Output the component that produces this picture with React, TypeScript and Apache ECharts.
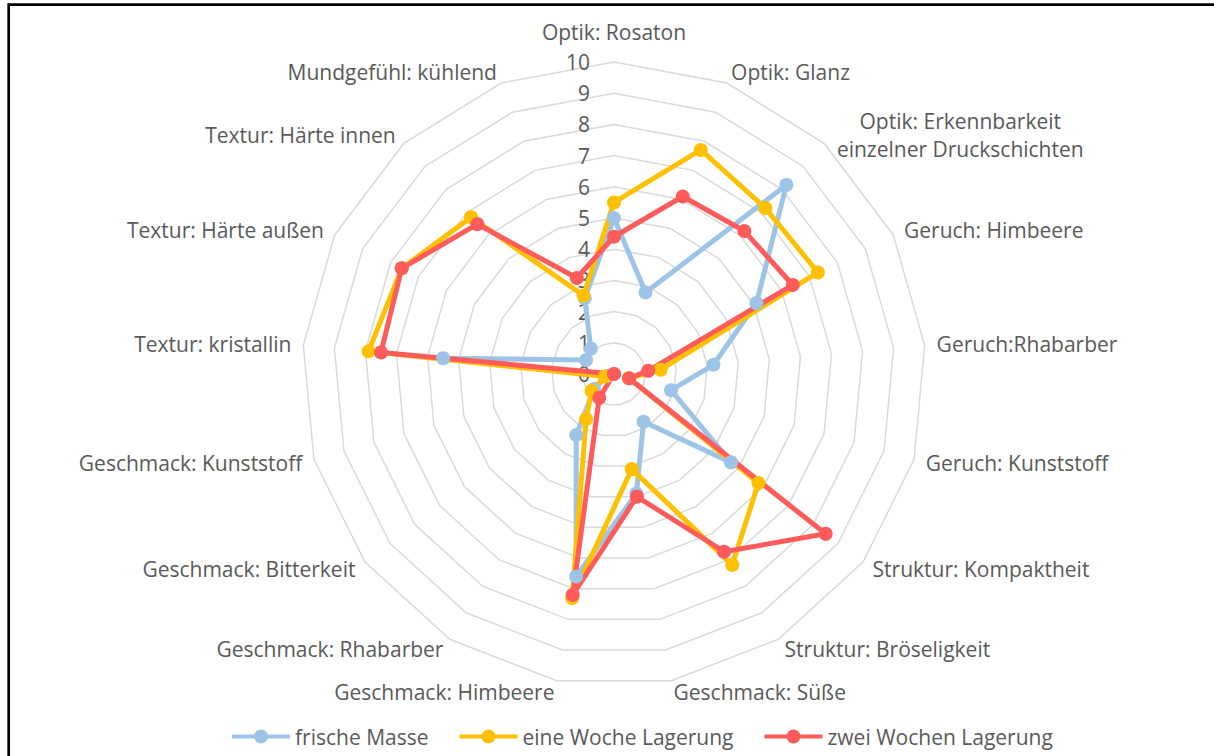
import React, { useEffect, useRef } from "react";
import * as echarts from "echarts";

// Indicators in clockwise order starting at the top
const indicatorNames = [
  "Optik: Rosaton",
  "Optik: Glanz",
  "Optik: Erkennbarkeit\neinzelner Druckschichten",
  "Geruch: Himbeere",
  "Geruch:Rhabarber",
  "Geruch: Kunststoff",
  "Struktur: Kompaktheit",
  "Struktur: Bröseligkeit",
  "Geschmack: Süße",
  "Geschmack: Himbeere",
  "Geschmack: Rhabarber",
  "Geschmack: Bitterkeit",
  "Geschmack: Kunststoff",
  "Textur: kristallin",
  "Textur: Härte außen",
  "Textur: Härte innen",
  "Mundgefühl: kühlend",
];

const axisMin = 0;
const axisMax = 10;

const seriesNames = ["frische Masse", "eine Woche Lagerung", "zwei Wochen Lagerung"];

const frischeMasse = [5.0, 2.8, 8.2, 5.1, 3.2, 1.9, 4.7, 1.8, 3.9, 6.6, 2.3, 0.8, 0.2, 5.5, 1.0, 1.1, 2.6];
const eineWoche = [5.5, 7.7, 7.2, 7.3, 1.5, 0.5, 5.8, 7.2, 3.1, 7.3, 1.7, 0.9, 0.3, 7.9, 7.6, 6.8, 2.7];
const zweiWochen = [4.4, 6.1, 6.2, 6.4, 1.1, 0.5, 8.5, 6.7, 4.0, 7.2, 0.9, 0.0, 0.0, 7.5, 7.6, 6.5, 3.3];

const seriesColors = ["#9dc3e6", "#ffc000", "#ff5b5b"];

// ECharts radar runs counter-clockwise, so reverse everything after the first axis
const order = [0, ...Array.from({ length: indicatorNames.length - 1 }, (_, i) => indicatorNames.length - 1 - i)];
const reorder = (arr: number[]) => order.map((i) => arr[i]);

const legendIcon =
  "path://M0,5 L58,5 L58,9 L0,9 Z M22,7 A7,7 0 1,1 36,7 A7,7 0 1,1 22,7 Z";

export default function App() {
  const ref = useRef<HTMLDivElement>(null);

  useEffect(() => {
    if (!ref.current) return;
    const chart = echarts.init(ref.current, null, { renderer: "svg" });
    const textColor = "#595959";
    const fontSize = 21;
    const allValues = [frischeMasse, eineWoche, zweiWochen];

    const indicatorExtras = (idx: number): Record<string, unknown> => {
      if (idx === 0) {
        return {
          nameGap: 20,
          axisLabel: {
            show: true,
            color: textColor,
            fontSize,
            fontFamily: "Open Sans",
            margin: 24,
          },
        };
      }
      if (idx === 2) {
        return {
          nameTextStyle: { align: "center", lineHeight: 28, padding: [0, 0, 0, 256] },
        };
      }
      return {};
    };

    chart.setOption({
      animation: false,
      backgroundColor: "#ffffff",
      textStyle: { fontFamily: "Open Sans" },
      graphic: [
        {
          type: "rect",
          silent: true,
          shape: { x: 8.7, y: 4.7, width: 1230, height: 800 },
          style: { fill: "none", stroke: "#000000", lineWidth: 2.7 },
        },
      ],
      legend: {
        left: 227,
        top: 721,
        itemWidth: 58,
        itemHeight: 14,
        itemGap: 31,
        textStyle: { fontSize, color: textColor, fontFamily: "Open Sans" },
        data: seriesNames.map((n) => ({ name: n, icon: legendIcon })),
      },
      radar: {
        center: [614, 374],
        radius: 312,
        startAngle: 90,
        splitNumber: 10,
        shape: "polygon",
        nameGap: 12,
        axisName: { color: textColor, fontSize, fontFamily: "Open Sans" },
        splitLine: { lineStyle: { color: "#d9d9d9", width: 1.5 } },
        splitArea: { show: false },
        axisLine: { show: false },
        axisTick: { show: false },
        axisLabel: { show: false },
        indicator: order.map((idx) => ({
          name: indicatorNames[idx],
          min: axisMin,
          max: axisMax,
          ...indicatorExtras(idx),
        })),
      },
      series: [
        {
          type: "radar",
          symbol: "circle",
          symbolSize: 14,
          lineStyle: { width: 5 },
          data: seriesNames.map((name, s) => ({
            name,
            value: reorder(allValues[s]),
            itemStyle: { color: seriesColors[s] },
            lineStyle: { color: seriesColors[s], width: 5 },
          })),
        },
      ],
    });

    return () => {
      chart.dispose();
    };
  }, []);

  return (
    <div
      ref={ref}
      style={{ position: "fixed", left: 0, top: 0, width: 1214, height: 756 }}
    />
  );
}
